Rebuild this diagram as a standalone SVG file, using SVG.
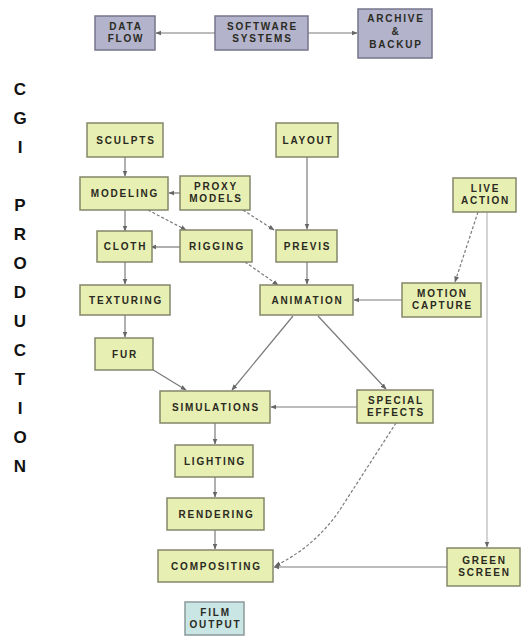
<svg xmlns="http://www.w3.org/2000/svg" width="521" height="636" viewBox="0 0 521 636">
<style>
.n rect{fill:#e8efb2;stroke:#85876a;stroke-width:1.5}
.t rect{fill:#b3b3cb;stroke:#76768a;stroke-width:1.5}
.f rect{fill:#c9e6e4;stroke:#8a9a9a;stroke-width:1.5}
text.l{font-family:"Liberation Sans",Arial,sans-serif;font-weight:bold;font-size:10px;letter-spacing:1.8px;fill:#2a2a22;text-anchor:middle}
text.v{font-family:"Liberation Sans",Arial,sans-serif;font-weight:bold;font-size:17px;fill:#111;text-anchor:middle}
.c path,.c line{fill:none;stroke:#7a7a7a;stroke-width:1.2;marker-end:url(#a)}
.c .d{stroke-dasharray:3 2}
.c .g{stroke:#b8b8b8}
</style>
<defs>
<marker id="a" viewBox="0 0 10 10" refX="9" refY="5" markerWidth="6" markerHeight="6" orient="auto" markerUnits="userSpaceOnUse">
<path d="M0,1 L10,5 L0,9 z" fill="#666"/>
</marker>
</defs>
<rect width="521" height="636" fill="#fff"/>
<g id="title">
<text class="v" x="20" y="95">C</text>
<text class="v" x="20" y="124">G</text>
<text class="v" x="20" y="153">I</text>
<text class="v" x="20" y="211">P</text>
<text class="v" x="20" y="240">R</text>
<text class="v" x="20" y="269">O</text>
<text class="v" x="20" y="298">D</text>
<text class="v" x="20" y="327">U</text>
<text class="v" x="20" y="356">C</text>
<text class="v" x="20" y="385">T</text>
<text class="v" x="20" y="414">I</text>
<text class="v" x="20" y="443">O</text>
<text class="v" x="20" y="472">N</text>
</g>
<g class="c" id="connectors">
<line x1="215" y1="33" x2="156" y2="33"/>
<line x1="308" y1="33" x2="357" y2="33"/>
<line x1="125" y1="157" x2="125" y2="176"/>
<line x1="180" y1="193" x2="169" y2="193"/>
<line x1="125" y1="210" x2="125" y2="231"/>
<line class="d" x1="148" y1="210" x2="186" y2="230"/>
<line x1="180" y1="247" x2="151" y2="247"/>
<line class="d" x1="243" y1="210" x2="274" y2="230"/>
<line x1="307" y1="157" x2="307" y2="229"/>
<line x1="307" y1="262" x2="307" y2="284"/>
<line class="d" x1="245" y1="262" x2="278" y2="285"/>
<line x1="402" y1="300" x2="354" y2="300"/>
<line class="d" x1="478" y1="212" x2="455" y2="282"/>
<line class="g" x1="487" y1="212" x2="487" y2="547"/>
<line x1="125" y1="262" x2="125" y2="284"/>
<line x1="125" y1="315" x2="125" y2="337"/>
<line x1="150" y1="368" x2="186" y2="390"/>
<line x1="293" y1="316" x2="232" y2="390"/>
<line x1="318" y1="316" x2="386" y2="389"/>
<line x1="357" y1="407" x2="271" y2="407"/>
<line x1="215" y1="423" x2="215" y2="444"/>
<line x1="215" y1="477" x2="215" y2="497"/>
<line x1="215" y1="530" x2="215" y2="549"/>
<path class="d" d="M396,423 L343,505 Q318,545 275,566"/>
<line x1="447" y1="567" x2="274" y2="567"/>
</g>
<g id="data-flow" class="t"><rect x="95" y="16" width="60" height="34"/><text class="l" x="126" y="30">DATA</text><text class="l" x="126" y="42">FLOW</text></g>
<g id="software-systems" class="t"><rect x="215" y="16" width="93" height="34"/><text class="l" x="262.5" y="30">SOFTWARE</text><text class="l" x="262.5" y="42">SYSTEMS</text></g>
<g id="archive-backup" class="t"><rect x="358" y="9" width="74" height="49"/><text class="l" x="396" y="22">ARCHIVE</text><text class="l" x="396" y="35">&amp;</text><text class="l" x="396" y="48">BACKUP</text></g>
<g id="sculpts" class="n"><rect x="87" y="123" width="76" height="34"/><text class="l" x="126" y="144">SCULPTS</text></g>
<g id="layout" class="n"><rect x="276" y="123" width="62" height="34"/><text class="l" x="308" y="144">LAYOUT</text></g>
<g id="modeling" class="n"><rect x="80" y="177" width="88" height="33"/><text class="l" x="125" y="197">MODELING</text></g>
<g id="proxy-models" class="n"><rect x="180" y="176" width="70" height="34"/><text class="l" x="216" y="190">PROXY</text><text class="l" x="216" y="202">MODELS</text></g>
<g id="cloth" class="n"><rect x="97" y="231" width="55" height="31"/><text class="l" x="125.5" y="250">CLOTH</text></g>
<g id="rigging" class="n"><rect x="180" y="230" width="72" height="32"/><text class="l" x="217" y="250">RIGGING</text></g>
<g id="previs" class="n"><rect x="276" y="230" width="61" height="32"/><text class="l" x="307.5" y="250">PREVIS</text></g>
<g id="live-action" class="n"><rect x="453" y="178" width="63" height="34"/><text class="l" x="485.5" y="192">LIVE</text><text class="l" x="485.5" y="204">ACTION</text></g>
<g id="texturing" class="n"><rect x="80" y="285" width="90" height="30"/><text class="l" x="126" y="304">TEXTURING</text></g>
<g id="animation" class="n"><rect x="260" y="285" width="93" height="30"/><text class="l" x="307.5" y="304">ANIMATION</text></g>
<g id="motion-capture" class="n"><rect x="402" y="283" width="79" height="34"/><text class="l" x="442.5" y="297">MOTION</text><text class="l" x="442.5" y="309">CAPTURE</text></g>
<g id="fur" class="n"><rect x="95" y="338" width="58" height="32"/><text class="l" x="125" y="358">FUR</text></g>
<g id="simulations" class="n"><rect x="160" y="391" width="110" height="32"/><text class="l" x="216" y="411">SIMULATIONS</text></g>
<g id="special-effects" class="n"><rect x="357" y="390" width="76" height="33"/><text class="l" x="396" y="404">SPECIAL</text><text class="l" x="396" y="416">EFFECTS</text></g>
<g id="lighting" class="n"><rect x="175" y="445" width="78" height="32"/><text class="l" x="215" y="465">LIGHTING</text></g>
<g id="rendering" class="n"><rect x="167" y="498" width="97" height="32"/><text class="l" x="216.5" y="518">RENDERING</text></g>
<g id="compositing" class="n"><rect x="158" y="550" width="115" height="32"/><text class="l" x="216.5" y="570">COMPOSITING</text></g>
<g id="green-screen" class="n"><rect x="447" y="548" width="73" height="38"/><text class="l" x="484.5" y="564">GREEN</text><text class="l" x="484.5" y="576">SCREEN</text></g>
<g id="film-output" class="f"><rect x="185" y="602" width="59" height="33"/><text class="l" x="215.5" y="616">FILM</text><text class="l" x="215.5" y="628">OUTPUT</text></g>
</svg>
